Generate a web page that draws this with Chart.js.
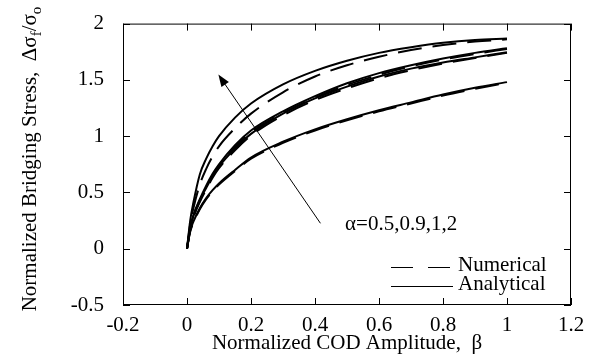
<!DOCTYPE html>
<html>
<head>
<meta charset="utf-8">
<script src="https://cdn.jsdelivr.net/npm/chart.js@4.4.0/dist/chart.umd.min.js"></script>
<style>
  html, body { margin: 0; padding: 0; background: #fff; }
</style>
</head>
<body>
<canvas id="codChart" width="595" height="359"></canvas>
<script>
const beta = [0, 0.01, 0.02, 0.04, 0.06, 0.08, 0.1, 0.15, 0.2, 0.3, 0.4, 0.5, 0.6, 0.7, 0.8, 0.9, 1.0];

// analytical solutions, alpha = 2, 1, 0.9, 0.5 (top to bottom)
const analyticalA2  = [0, 0.25, 0.41, 0.66, 0.80, 0.91, 1.00, 1.165, 1.29, 1.46, 1.58, 1.67, 1.74, 1.79, 1.83, 1.855, 1.867];
const analyticalA1  = [0, 0.19, 0.30, 0.44, 0.56, 0.665, 0.75, 0.92, 1.05, 1.22, 1.355, 1.47, 1.56, 1.63, 1.69, 1.74, 1.78];
const analyticalA09 = [0, 0.18, 0.29, 0.43, 0.54, 0.645, 0.73, 0.89, 1.02, 1.20, 1.335, 1.44, 1.53, 1.60, 1.655, 1.70, 1.745];
const analyticalA05 = [0, 0.16, 0.24, 0.36, 0.45, 0.52, 0.58, 0.70, 0.81, 0.95, 1.06, 1.15, 1.23, 1.30, 1.37, 1.43, 1.48];

// numerical results (dashed)
const numericalA2  = [0, 0.22, 0.36, 0.57, 0.71, 0.82, 0.91, 1.07, 1.20, 1.39, 1.53, 1.63, 1.705, 1.765, 1.81, 1.84, 1.86];
const numericalA1  = [0, 0.18, 0.285, 0.425, 0.545, 0.65, 0.735, 0.905, 1.035, 1.205, 1.34, 1.455, 1.545, 1.62, 1.68, 1.73, 1.775];
const numericalA09 = [0, 0.17, 0.275, 0.415, 0.525, 0.63, 0.715, 0.875, 1.005, 1.185, 1.32, 1.425, 1.515, 1.585, 1.645, 1.695, 1.74];
const numericalA05 = [0, 0.15, 0.23, 0.35, 0.44, 0.51, 0.57, 0.69, 0.80, 0.94, 1.05, 1.14, 1.22, 1.29, 1.36, 1.42, 1.475];

const xTickLabels = ["-0.2", "0", "0.2", "0.4", "0.6", "0.8", "1", "1.2"];
const yTickLabels = ["-0.5", "0", "0.5", "1", "1.5", "2"];

const serif = "'Liberation Serif', 'Times New Roman', serif";

function pts(ys) {
    return beta.map((b, i) => ({ x: b, y: ys[i] }));
}

function solid(ys) {
    return { data: pts(ys), borderColor: '#000', borderWidth: 2, pointRadius: 0, cubicInterpolationMode: 'monotone' };
}

function dashed(ys) {
    return { data: pts(ys), borderColor: '#000', borderWidth: 2, borderDash: [24, 11], pointRadius: 0, cubicInterpolationMode: 'monotone' };
}

// frame, inward ticks, arrow, labels, legend and the y title with subscripts
const decorPlugin = {
    id: 'decor',
    afterDraw(chart) {
        const { ctx, chartArea: a, scales: { x, y } } = chart;
        ctx.save();
        ctx.strokeStyle = '#000';
        ctx.fillStyle = '#000';
        ctx.lineWidth = 1;
        ctx.strokeRect(a.left + 0.5, a.top + 0.5, a.right - a.left - 1, a.bottom - a.top - 1);

        ctx.beginPath();
        x.ticks.forEach(t => {
            const px = Math.round(x.getPixelForValue(t.value)) + 0.5;
            ctx.moveTo(px, a.bottom); ctx.lineTo(px, a.bottom - 7);
            ctx.moveTo(px, a.top); ctx.lineTo(px, a.top + 7);
        });
        y.ticks.forEach(t => {
            const py = Math.round(y.getPixelForValue(t.value)) + 0.5;
            ctx.moveTo(a.left, py); ctx.lineTo(a.left + 7, py);
            ctx.moveTo(a.right, py); ctx.lineTo(a.right - 7, py);
        });
        ctx.stroke();

        // arrow showing increasing alpha
        const x0 = x.getPixelForValue(0.417), y0 = y.getPixelForValue(0.226);
        const x1 = x.getPixelForValue(0.098), y1 = y.getPixelForValue(1.547);
        const ang = Math.atan2(y1 - y0, x1 - x0);
        ctx.beginPath();
        ctx.moveTo(x0, y0);
        ctx.lineTo(x1 - 8 * Math.cos(ang), y1 - 8 * Math.sin(ang));
        ctx.stroke();
        ctx.beginPath();
        ctx.moveTo(x1, y1);
        ctx.lineTo(x1 - 12 * Math.cos(ang) + 4.5 * Math.sin(ang), y1 - 12 * Math.sin(ang) - 4.5 * Math.cos(ang));
        ctx.lineTo(x1 - 12 * Math.cos(ang) - 4.5 * Math.sin(ang), y1 - 12 * Math.sin(ang) + 4.5 * Math.cos(ang));
        ctx.closePath();
        ctx.fill();

        ctx.font = '21px ' + serif;
        ctx.textBaseline = 'alphabetic';
        ctx.fillText('α=0.5,0.9,1,2', x.getPixelForValue(0.494), y.getPixelForValue(0.17));

        // legend
        const lx0 = 391, lx1 = 453, tx = 458;
        ctx.setLineDash([22, 15]);
        ctx.beginPath(); ctx.moveTo(lx0, 267.5); ctx.lineTo(lx1, 267.5); ctx.stroke();
        ctx.setLineDash([]);
        ctx.beginPath(); ctx.moveTo(lx0, 286.5); ctx.lineTo(lx1, 286.5); ctx.stroke();
        ctx.fillText('Numerical', tx, 270.5);
        ctx.fillText('Analytical', tx, 289.5);

        // y axis title, rotated, with subscripts
        const parts = [
            { t: 'Normalized Bridging Stress,  Δσ', s: 21, d: 0 },
            { t: 'f', s: 15, d: 5 },
            { t: '/σ', s: 21, d: 0 },
            { t: 'o', s: 15, d: 5 }
        ];
        let total = 0;
        parts.forEach(p => { ctx.font = p.s + 'px ' + serif; p.w = ctx.measureText(p.t).width; total += p.w; });
        ctx.translate(36, 159);
        ctx.rotate(-Math.PI / 2);
        let cx = -total / 2;
        parts.forEach(p => {
            ctx.font = p.s + 'px ' + serif;
            ctx.fillText(p.t, cx, p.d);
            cx += p.w;
        });
        ctx.restore();
    }
};

new Chart(document.getElementById('codChart'), {
    type: 'line',
    data: {
        datasets: [
            solid(analyticalA2), solid(analyticalA1), solid(analyticalA09), solid(analyticalA05),
            dashed(numericalA2), dashed(numericalA1), dashed(numericalA09), dashed(numericalA05)
        ]
    },
    options: {
        responsive: false,
        animation: false,
        layout: { padding: { top: 18, right: 24, left: 0, bottom: 0 } },
        scales: {
            x: {
                type: 'linear',
                min: -0.2,
                max: 1.2,
                grid: { display: false },
                border: { display: false },
                afterFit: s => { s.height = 54; },
                ticks: {
                    stepSize: 0.2,
                    padding: 0,
                    color: '#000',
                    font: { family: serif, size: 21 },
                    maxRotation: 0,
                    callback: (v, i) => xTickLabels[i]
                },
                title: {
                    display: true,
                    text: 'Normalized COD Amplitude,  β',
                    color: '#000',
                    font: { family: serif, size: 21 },
                    padding: { top: 0, bottom: 3 }
                }
            },
            y: {
                min: -0.5,
                max: 2,
                grid: { display: false },
                border: { display: false },
                afterFit: s => { s.width = 123; },
                ticks: {
                    stepSize: 0.5,
                    padding: 11,
                    color: '#000',
                    font: { family: serif, size: 21 },
                    callback: (v, i) => yTickLabels[i]
                }
            }
        },
        plugins: {
            legend: { display: false },
            tooltip: { enabled: false }
        }
    },
    plugins: [decorPlugin]
});
</script>
</body>
</html>
